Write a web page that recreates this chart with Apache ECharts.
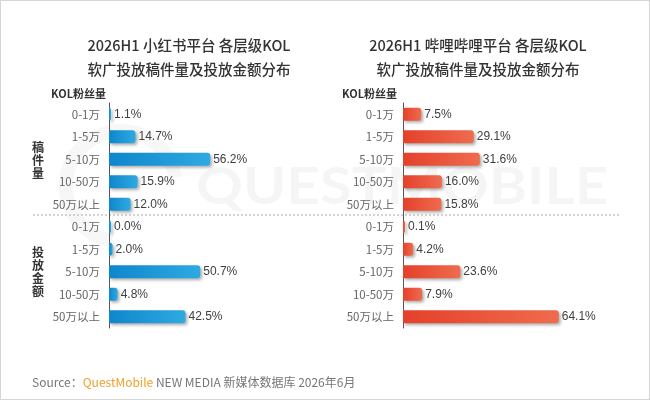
<!DOCTYPE html>
<html>
<head>
<meta charset="utf-8">
<script src="https://cdn.jsdelivr.net/npm/echarts@6/dist/echarts.min.js"></script>
<style>
    html, body { margin: 0; padding: 0; background: #fff; }
    #main { width: 650px; height: 400px; box-sizing: border-box; border: 1px solid #d6d6d6; }
</style>
</head>
<body>
<div id="main"></div>
<script>
// 数据
let tiers = ['0-1万', '1-5万', '5-10万', '10-50万', '50万以上'];
let categories = tiers.concat(tiers);
let xhsValues = [1.1, 14.7, 56.2, 15.9, 12.0, 0.0, 2.0, 50.7, 4.8, 42.5];
let biliValues = [7.5, 29.1, 31.6, 16.0, 15.8, 0.1, 4.2, 23.6, 7.9, 64.1];
let titles = ['2026H1 小红书平台 各层级KOL\n软广投放稿件量及投放金额分布', '2026H1 哔哩哔哩平台 各层级KOL\n软广投放稿件量及投放金额分布'];

(function() {
    let myChart = echarts.init(document.getElementById('main'))
    let font = '"Noto Sans CJK SC", "Noto Sans", sans-serif'

    function barStyle(c1, c2) {
        return {
            color: new echarts.graphic.LinearGradient(0, 0, 1, 0, [
                { offset: 0, color: c1 },
                { offset: 1, color: c2 }
            ]),
            borderRadius: [0, 3, 3, 0],
            shadowColor: 'rgba(0,0,0,0.3)',
            shadowBlur: 3,
            shadowOffsetX: 2,
            shadowOffsetY: 2
        }
    }

    function yAxis(gridIndex) {
        return {
            type: 'category',
            gridIndex: gridIndex,
            inverse: true,
            data: categories,
            axisLine: { show: true, lineStyle: { color: '#555', width: 1 } },
            axisTick: { show: false },
            axisLabel: { color: '#666', fontSize: 11.5, margin: 9, fontFamily: font }
        }
    }

    let label = {
        show: true,
        position: 'right',
        distance: 3,
        color: '#404040',
        fontSize: 12,
        fontFamily: 'Arial, "Liberation Sans", sans-serif',
        formatter: p => p.value.toFixed(1) + '%'
    }

    let titleStyle = { fontSize: 14.5, fontWeight: 500, color: '#333', lineHeight: 24, fontFamily: font }

    let option = {
        animation: false,
        title: [
            { text: titles[0], left: 183, top: 27, textAlign: 'center', textStyle: titleStyle },
            { text: titles[1], left: 472, top: 27, textAlign: 'center', textStyle: titleStyle }
        ],
        grid: [
            { left: 108, top: 102, width: 180, height: 225 },
            { left: 402, top: 102, width: 243, height: 225 }
        ],
        xAxis: [
            { type: 'value', gridIndex: 0, min: 0, max: 100, show: false },
            { type: 'value', gridIndex: 1, min: 0, max: 100, show: false }
        ],
        yAxis: [yAxis(0), yAxis(1)],
        series: [
            { type: 'bar', xAxisIndex: 0, yAxisIndex: 0, barWidth: 13, barMinHeight: 2, data: xhsValues,
              itemStyle: barStyle('#0f86cc', '#2eaae2'), label: label },
            { type: 'bar', xAxisIndex: 1, yAxisIndex: 1, barWidth: 13, barMinHeight: 2, data: biliValues,
              itemStyle: barStyle('#e4412a', '#ef6b4e'), label: label }
        ],
        graphic: [
            // 水印
            { type: 'text', x: 195, y: 160, scaleX: 1.12, z: -10, silent: true,
              style: { text: 'QUESTMOBILE', fontSize: 52, fontWeight: 'bold', fill: 'rgba(0,0,0,0.04)', fontFamily: 'Lato, "Open Sans", sans-serif' } },
            { type: 'arc', z: -10, silent: true,
              shape: { cx: 120, cy: 185, r: 55, startAngle: Math.PI * 0.55, endAngle: Math.PI * 1.95 },
              style: { stroke: 'rgba(0,0,0,0.03)', lineWidth: 14, fill: null } },
            { type: 'text', left: 50, top: 87, style: { text: 'KOL粉丝量', fontSize: 11, fontWeight: 'bold', fill: '#333', fontFamily: font } },
            { type: 'text', left: 341, top: 87, style: { text: 'KOL粉丝量', fontSize: 11, fontWeight: 'bold', fill: '#333', fontFamily: font } },
            { type: 'text', left: 31, top: 140, style: { text: '稿\n件\n量', fontSize: 12, lineHeight: 13, fontWeight: 'bold', fill: '#333', fontFamily: font } },
            { type: 'text', left: 31, top: 245, style: { text: '投\n放\n金\n额', fontSize: 12, lineHeight: 13, fontWeight: 'bold', fill: '#333', fontFamily: font } },
            { type: 'line', shape: { x1: 32, y1: 214, x2: 620, y2: 214 },
              style: { stroke: '#aaa', lineWidth: 1, lineDash: [2, 2] } },
            { type: 'text', left: 31, top: 375, style: {
                text: '{g|Source：}{o|QuestMobile}{g| NEW MEDIA 新媒体数据库 2026年6月}',
                rich: {
                    g: { fontSize: 12, fill: '#777', fontFamily: font },
                    o: { fontSize: 12, fill: '#f0a02a', fontFamily: font }
                }
            } }
        ]
    }
    myChart.setOption(option)
})()
</script>
</body>
</html>
